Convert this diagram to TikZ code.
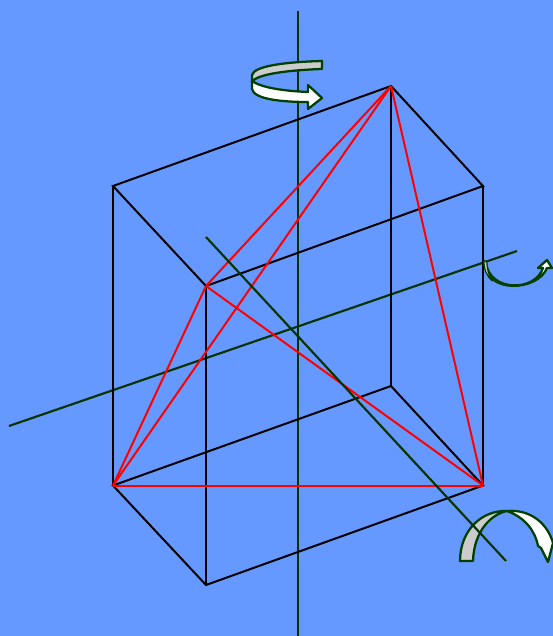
\documentclass[tikz,border=0pt]{standalone}
\definecolor{bgblue}{RGB}{102,153,255}
\definecolor{axisgreen}{RGB}{0,51,0}
\definecolor{rotgreen}{RGB}{0,64,0}
\definecolor{bandgrey}{RGB}{204,204,204}
\tikzset{
  edgeline/.style={black,line width=1.5pt},
  diagline/.style={red,line width=1.5pt},
  axisline/.style={axisgreen,line width=1.6pt},
  bandgreyfill/.style={draw=rotgreen,fill=bandgrey,line width=1.7pt,line join=round},
  bandwhitefill/.style={draw=rotgreen,fill=white,line width=1.7pt,line join=round}
}
\begin{document}
\begin{tikzpicture}[x=0.75pt,y=-0.75pt]
\useasboundingbox (0,0) rectangle (553,636);
\fill[bgblue] (0,0) rectangle (553,636);
\coordinate (A) at (113,186);
\coordinate (B) at (391,86);
\coordinate (C) at (483,186);
\coordinate (D) at (206,286);
\coordinate (E) at (113,485.5);
\coordinate (F) at (391,386);
\coordinate (G) at (483,485.5);
\coordinate (H) at (206,585);
\coordinate (v1) at (298,11);
\coordinate (v2) at (298,636);
\coordinate (h1) at (9,426);
\coordinate (h2) at (517,251);
\coordinate (d1) at (206,237);
\coordinate (d2) at (506,561);
\draw[axisline] (v1) -- (v2);
\draw[axisline] (h1) -- (h2);
\draw[edgeline] (A) -- (B) -- (C) -- (D) -- cycle;
\draw[edgeline] (E) -- (F) -- (G) -- (H) -- cycle;
\draw[edgeline] (A) -- (E);
\draw[edgeline] (B) -- (F);
\draw[edgeline] (C) -- (G);
\draw[edgeline] (D) -- (H);
\draw[diagline] (D) -- (B);
\draw[diagline] (E) -- (B);
\draw[diagline] (G) -- (B);
\draw[diagline] (D) -- (E);
\draw[diagline] (D) -- (G);
\draw[diagline] (E) -- (G);
% top rotation arrow
\draw[bandwhitefill] (252,81) .. controls (262,88) and (285,91) .. (308,92)
  -- (308,85) -- (322,98) -- (308,109) -- (308,102)
  .. controls (280,102) and (254,99) .. (252,89) -- cycle;
\draw[bandgreyfill] (322,61) .. controls (285,62) and (254,66) .. (252,75)
  -- (252,82) .. controls (256,74) and (290,70) .. (322,69) -- cycle;
% right rotation arrow
\draw[bandwhitefill] (486,263) .. controls (490,292) and (535,292) .. (543,268)
  -- (538,268) -- (547,260) -- (552,268) -- (547,268)
  .. controls (538,291) and (485,295) .. (484,261) -- cycle;
\draw[bandgreyfill,line width=0.9pt] (484,261) .. controls (484,270) and (487,276) .. (492,281)
  .. controls (489,275) and (487,270) .. (487,262) -- cycle;
% bottom rotation arrow
\draw[bandwhitefill] (507,511) .. controls (532,509) and (548,525) .. (553,543)
  -- (548,562) -- (541,548) -- (538,546) .. controls (535,530) and (524,517) .. (507,511) -- cycle;
\draw[bandgreyfill] (460,561) .. controls (460,530) and (482,510) .. (507,511)
  .. controls (492,514) and (474,530) .. (473,561) -- cycle;
\draw[axisline] (d1) -- (d2);
\end{tikzpicture}
\end{document}
